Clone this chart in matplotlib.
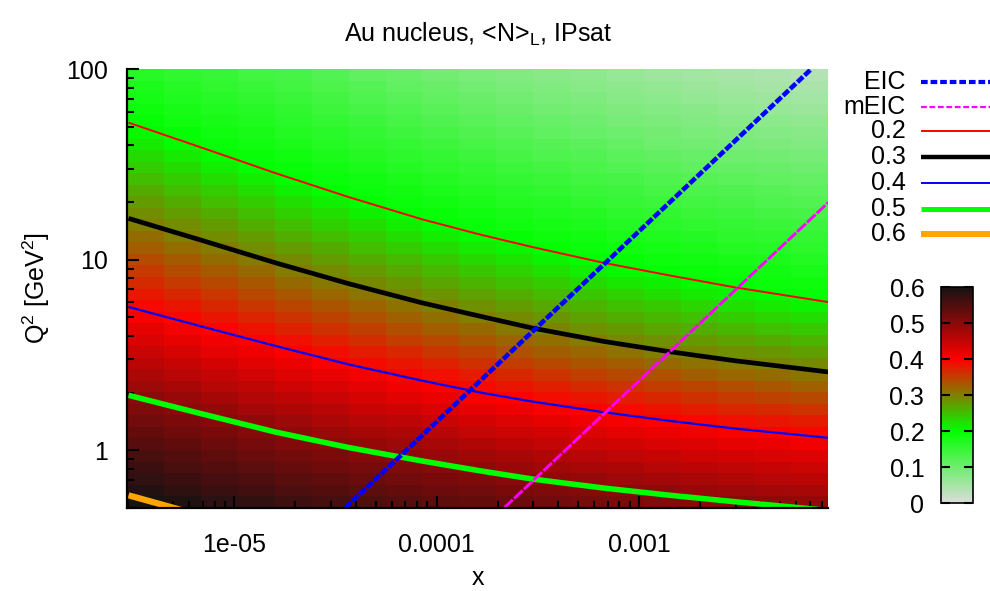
import numpy as np
import matplotlib
matplotlib.use("Agg")
import matplotlib.pyplot as plt
from matplotlib.colors import LinearSegmentedColormap, Normalize
from matplotlib.lines import Line2D
from matplotlib.ticker import FixedLocator, FixedFormatter, LogLocator, NullFormatter
import matplotlib.cm as cm

plt.rcParams['font.family'] = ['Liberation Sans', 'DejaVu Sans']
plt.rcParams['mathtext.fontset'] = 'custom'
plt.rcParams['mathtext.rm'] = 'Liberation Sans'

# ---------------- data ----------------
title = r"Au nucleus, <N>$_{\mathregular{L}}$, IPsat"
x_label = "x"
y_label = r"Q$^{\mathregular{2}}$ [GeV$^{\mathregular{2}}$]"

x_ticks = [1e-5, 1e-4, 1e-3]
x_tick_labels = ["1e-05", "0.0001", "0.001"]
y_ticks = [1, 10, 100]
y_tick_labels = ["1", "10", "100"]
cb_ticks = [0.0, 0.1, 0.2, 0.3, 0.4, 0.5, 0.6]
cb_tick_labels = ["0", "0.1", "0.2", "0.3", "0.4", "0.5", "0.6"]

x_range = [2.96e-6, 8.62e-3]
q2_range = [0.5, 100.0]

# x positions at which the level curves were read
x_pts = [3.0e-6, 7.0e-6, 1.6e-5, 3.7e-5, 8.5e-5, 1.65e-4, 3.0e-4, 6.7e-4, 1.4e-3, 3.0e-3, 8.6e-3]

# Q^2 where <N>_L equals a given level (0.2..0.6 are the drawn contours;
# 0, 0.05, 0.1 estimated from the background colours)
q2_at_000 = [2500, 1860, 1350, 1000, 740, 590, 480, 370, 300, 250, 200]
q2_at_005 = [891, 661, 479, 355, 263, 209, 170, 132, 107, 89, 71]
q2_at_010 = [355, 263, 195, 132, 95.5, 74, 63, 50, 41.7, 35.5, 29.5]
q2_at_020 = [52.5, 38.6, 28.5, 21.3, 16.3, 13.55, 11.64, 9.64, 8.30, 7.16, 6.0]
q2_at_030 = [16.5, 12.6, 9.64, 7.48, 5.94, 5.05, 4.375, 3.73, 3.30, 2.95, 2.58]
q2_at_040 = [5.66, 4.45, 3.53, 2.82, 2.32, 2.01, 1.80, 1.585, 1.43, 1.30, 1.164]
q2_at_050 = [1.945, 1.549, 1.247, 1.033, 0.879, 0.780, 0.706, 0.634, 0.582, 0.537, 0.484]
q2_at_060 = [0.581, 0.452, 0.375, 0.314, 0.268, 0.240, 0.216, 0.193, 0.174, 0.158, 0.138]

level_values = [0.0, 0.05, 0.1, 0.2, 0.3, 0.4, 0.5, 0.6]
level_curves = [q2_at_000, q2_at_005, q2_at_010, q2_at_020,
                q2_at_030, q2_at_040, q2_at_050, q2_at_060]

# kinematic limits (straight lines in log-log)
eic_x = [3.54e-5, 7.08e-3]
eic_q2 = [0.5, 100.0]
meic_x = [2.16e-4, 8.62e-3]
meic_q2 = [0.5, 20.0]

contour_labels = ["0.2", "0.3", "0.4", "0.5", "0.6"]
contour_data = [q2_at_020, q2_at_030, q2_at_040, q2_at_050, q2_at_060]

n_cols, n_rows = 19, 38

# ---------------- figure ----------------
FS = 18
W, H = 990, 591
fig = plt.figure(figsize=(W / 100, H / 100), dpi=100)
L, R, T, B = 127.3, 828.3, 69.3, 507.7
ax = fig.add_axes([L / W, 1 - B / H, (R - L) / W, (B - T) / H])

cmap = LinearSegmentedColormap.from_list(
    "nl", [(0.0, "#dcdcdc"), (1 / 3, "#00ff00"), (2 / 3, "#ff0000"), (1.0, "#181212")])
norm = Normalize(0.0, 0.6)

# heat map cells built from the level table
lx = np.log10(x_pts)
ex = np.logspace(np.log10(x_range[0]), np.log10(x_range[1]), n_cols + 1)
ey = np.logspace(np.log10(q2_range[0]), np.log10(q2_range[1]), n_rows + 1)
cx = 0.5 * (np.log10(ex[1:]) + np.log10(ex[:-1]))
cy = 0.5 * (np.log10(ey[1:]) + np.log10(ey[:-1]))
Z = np.zeros((n_rows, n_cols))
for j, c in enumerate(cx):
    pos = np.array([np.interp(c, lx, np.log10(curve)) for curve in level_curves])
    order = np.argsort(pos)
    Z[:, j] = np.interp(cy, pos[order], np.array(level_values)[order])
ax.pcolormesh(ex, ey, Z, cmap=cmap, norm=norm, shading="flat", zorder=1)

styles = {
    "0.2": dict(color="#ff0000", lw=1.4),
    "0.3": dict(color="#000000", lw=3.4),
    "0.4": dict(color="#0000ff", lw=1.6),
    "0.5": dict(color="#00ff00", lw=4.0),
    "0.6": dict(color="#ffa500", lw=4.5),
}
for lab, q2 in zip(contour_labels, contour_data):
    ax.plot(x_pts, q2, solid_capstyle="butt", solid_joinstyle="round", zorder=3, **styles[lab])

eic_style = dict(color="#0000ff", lw=3.3, dashes=(1.7, 0.45))
meic_style = dict(color="#ff00ff", lw=2.1, dashes=(4.0, 0.6))
ax.plot(eic_x, eic_q2, zorder=4, **eic_style)
ax.plot(meic_x, meic_q2, zorder=4, **meic_style)

ax.set_xscale("log")
ax.set_yscale("log")
ax.set_xlim(x_range)
ax.set_ylim(q2_range)

for s in ["top", "right"]:
    ax.spines[s].set_visible(False)
for s in ["left", "bottom"]:
    ax.spines[s].set_linewidth(1.6)
    ax.spines[s].set_zorder(5)

ax.xaxis.set_major_locator(FixedLocator(x_ticks))
ax.xaxis.set_major_formatter(FixedFormatter(x_tick_labels))
ax.yaxis.set_major_locator(FixedLocator(y_ticks))
ax.yaxis.set_major_formatter(FixedFormatter(y_tick_labels))
ax.xaxis.set_minor_locator(LogLocator(base=10, subs=np.arange(2, 10), numticks=20))
ax.yaxis.set_minor_locator(LogLocator(base=10, subs=np.arange(2, 10), numticks=20))
ax.xaxis.set_minor_formatter(NullFormatter())
ax.yaxis.set_minor_formatter(NullFormatter())
ax.tick_params(which="both", direction="in", top=False, right=False, width=1.5,
               labelsize=FS, colors="black", zorder=6)
ax.tick_params(which="major", length=8.5)
ax.tick_params(which="minor", length=5)
ax.tick_params(axis="x", which="major", pad=18)
ax.tick_params(axis="y", which="major", pad=14)

ax.set_xlabel(x_label, fontsize=FS, labelpad=7)
ax.set_ylabel(y_label, fontsize=FS, labelpad=10)
ax.set_title(title, fontsize=FS, pad=20)

# legend (drawn manually on the right)
leg_rows = [("EIC", eic_style, 82), ("mEIC", meic_style, 106.5)]
leg_y = [131, 157, 183, 209, 234.5]
leg_lw = {"0.2": 1.4, "0.3": 3.2, "0.4": 1.4, "0.5": 3.6, "0.6": 4.4}
for lab, y in zip(contour_labels, leg_y):
    st = dict(styles[lab])
    st["lw"] = leg_lw[lab]
    leg_rows.append((lab, st, y))
for lab, st, y in leg_rows:
    fig.text(906 / W, 1 - y / H, lab, ha="right", va="center", fontsize=FS)
    kw = dict(st)
    if lab == "mEIC":
        kw["lw"] = 1.6
        kw["dashes"] = (2.6, 1.2)
    if lab == "EIC":
        kw["lw"] = 3.0
        kw["dashes"] = (1.6, 0.7)
    ln = Line2D([921 / W, 992 / W], [1 - y / H, 1 - y / H], transform=fig.transFigure,
                solid_capstyle="butt", dash_capstyle="butt", **kw)
    fig.add_artist(ln)

# colour bar
cax = fig.add_axes([941 / W, 1 - 503.3 / H, 32 / W, (503.3 - 287.3) / H])
sm = cm.ScalarMappable(norm=norm, cmap=cmap)
cb = fig.colorbar(sm, cax=cax)
cb.set_ticks(cb_ticks)
cb.set_ticklabels(cb_tick_labels)
cb.outline.set_linewidth(1.2)
cax.yaxis.set_ticks_position("both")
cax.tick_params(axis="y", direction="in", left=True, right=True, labelleft=True,
                labelright=False, length=6.5, width=1.5, labelsize=FS, pad=12)
cax.minorticks_off()

fig.savefig("out.png", dpi=100)
